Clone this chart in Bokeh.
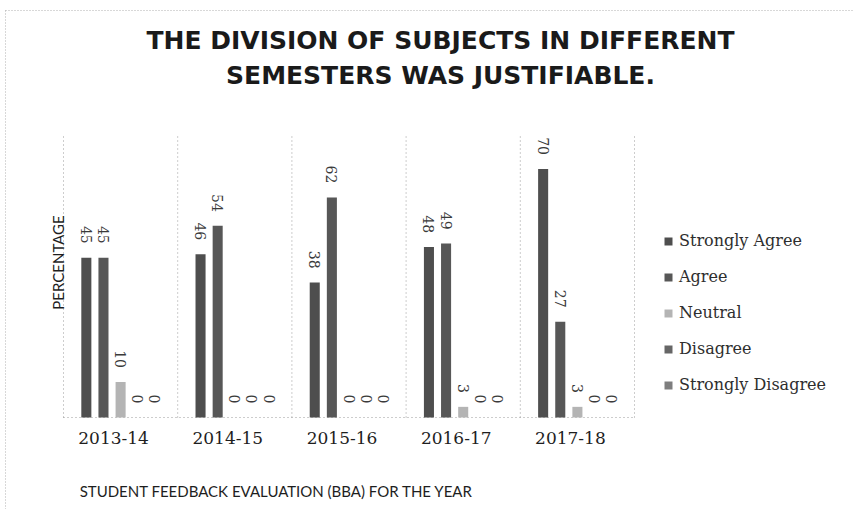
import math
from bokeh.plotting import figure
from bokeh.models import ColumnDataSource, Range1d, Legend, LegendItem, Label
from bokeh.transform import dodge
from bokeh.core.properties import value
from bokeh.embed import file_html
from bokeh.resources import INLINE

years = ["2013-14", "2014-15", "2015-16", "2016-17", "2017-18"]
series = ["Strongly Agree", "Agree", "Neutral", "Disagree", "Strongly Disagree"]
strongly_agree = [45, 46, 38, 48, 70]
agree = [45, 54, 62, 49, 27]
neutral = [10, 0, 0, 3, 3]
disagree = [0, 0, 0, 0, 0]
strongly_disagree = [0, 0, 0, 0, 0]

title_lines = ["THE DIVISION OF SUBJECTS IN DIFFERENT", "SEMESTERS WAS JUSTIFIABLE."]
y_title = "PERCENTAGE"
x_title = "STUDENT FEEDBACK EVALUATION (BBA) FOR THE YEAR"
y_max = 80

colors = ["#4e4e4e", "#575757", "#b4b4b4", "#666666", "#7e7e7e"]
offsets = [-0.30, -0.15, 0.0, 0.15, 0.30]
values_list = [strongly_agree, agree, neutral, disagree, strongly_disagree]

# layout of the plotting area in pixels
W, H = 853, 509
PL, PR, PT, PB = 63, 634, 133, 417
n = len(years)
xu = (PR - PL) / n          # pixels per group
yu = (PB - PT) / y_max      # pixels per percent

def px2x(px):
    return (px - PL) / xu

def py2y(py):
    return (PB - py) / yu

p = figure(x_range=Range1d(px2x(0), px2x(W)), y_range=Range1d(py2y(H), py2y(0)),
           width=W, height=H, output_backend="svg", toolbar_location=None,
           x_axis_location=None, y_axis_location=None,
           min_border=0, min_border_left=0, min_border_right=0,
           min_border_top=0, min_border_bottom=0)
p.outline_line_color = None
p.xgrid.visible = False
p.ygrid.visible = False
p.background_fill_color = "white"
p.border_fill_color = "white"

# faint outer chart border (top and left, as in the scan)
p.segment(x0=[px2x(5), px2x(5)], y0=[py2y(10), py2y(10)],
          x1=[px2x(852), px2x(5)], y1=[py2y(10), py2y(509)],
          line_color="#b0b0b0", line_dash="1 2", line_width=1)

data = {"years": years, "xc": [i + 0.5 for i in range(n)], "zero": [0] * n}
for i, vals in enumerate(values_list):
    data[f"v{i}"] = vals
    data[f"t{i}"] = [str(v) for v in vals]
src = ColumnDataSource(data)

# group separators and baseline (dotted)
sep = list(range(n + 1))
p.segment(x0=sep, y0=[0] * (n + 1), x1=sep, y1=[y_max] * (n + 1),
          line_color="#9a9a9a", line_dash="1 3", line_width=1)
p.segment(x0=[0], y0=[0], x1=[n], y1=[0], line_color="#9a9a9a",
          line_dash="1 3", line_width=1)

items = []
for i, name in enumerate(series):
    r = p.vbar(x=dodge("xc", offsets[i]), top=f"v{i}", bottom=0,
               width=0.088, source=src, fill_color=colors[i], line_color=None)
    p.text(x=dodge("xc", offsets[i]), y=f"v{i}", text=f"t{i}",
           source=src, angle=-math.pi / 2, text_align="right", text_baseline="middle",
           y_offset=-14, text_font=value("DejaVu Serif"), text_font_size="14px",
           text_color="#3a3a3a")
    items.append(LegendItem(label=name, renderers=[r]))

# category labels under each group
p.text(x="xc", y="zero", text="years", source=src, x_offset=-7, y_offset=20,
       text_align="center", text_baseline="middle",
       text_font=value("DejaVu Serif"), text_font_size="17px", text_color="#1e1e1e")

legend = Legend(items=items, location=(663, H - 394), orientation="vertical")
legend.padding = 0
legend.margin = 0
legend.border_line_color = None
legend.background_fill_alpha = 0
legend.glyph_width = 10
legend.glyph_height = 10
legend.label_standoff = 6
legend.spacing = 17
legend.label_height = 18
legend.label_text_font = "DejaVu Serif"
legend.label_text_font_size = "16px"
legend.label_text_color = "#2e2e2e"
p.add_layout(legend)

for txt, py in zip(title_lines, [40, 75]):
    p.add_layout(Label(x=px2x(440), y=py2y(py), text=txt,
                       text_align="center", text_baseline="middle",
                       text_font="DejaVu Sans", text_font_style="bold",
                       text_font_size="25px", text_color="#1a1a1a"))

p.add_layout(Label(x=px2x(57), y=py2y(262), text=y_title, angle=math.pi / 2,
                   text_align="center", text_baseline="middle",
                   text_font="Lato", text_font_size="15px", text_color="#1e1e1e"))
p.add_layout(Label(x=px2x(276), y=py2y(490), text=x_title,
                   text_align="center", text_baseline="middle",
                   text_font="Lato", text_font_size="15px", text_color="#1e1e1e"))

open("out.html", "w").write(file_html(p, INLINE))
